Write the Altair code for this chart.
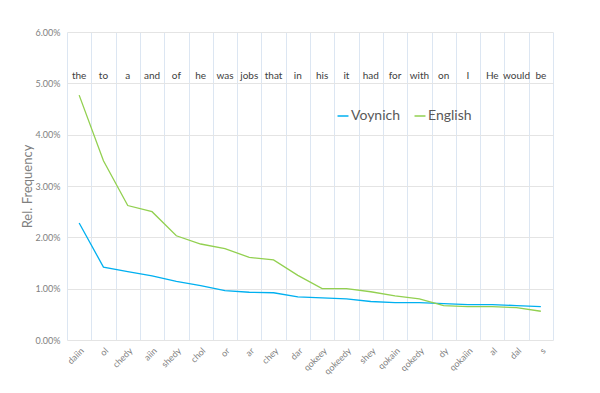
import altair as alt
import pandas as pd

voynich_words = ["daiin", "ol", "chedy", "aiin", "shedy", "chol", "or", "ar", "chey", "dar",
                 "qokeey", "qokeedy", "shey", "qokain", "qokedy", "dy", "qokaiin", "al", "dal", "s"]
english_words = ["the", "to", "a", "and", "of", "he", "was", "jobs", "that", "in",
                 "his", "it", "had", "for", "with", "on", "I", "He", "would", "be"]
voynich_freq = [2.28, 1.42, 1.33, 1.25, 1.14, 1.06, 0.96, 0.93, 0.92, 0.84,
                0.82, 0.80, 0.75, 0.73, 0.73, 0.71, 0.69, 0.69, 0.67, 0.65]
english_freq = [4.77, 3.49, 2.62, 2.50, 2.03, 1.87, 1.78, 1.61, 1.56, 1.26,
                1.00, 1.00, 0.94, 0.86, 0.80, 0.67, 0.65, 0.65, 0.63, 0.56]

rows = []
for w, e, v, f in zip(voynich_words, english_words, voynich_freq, english_freq):
    rows.append({"word": w, "series": "Voynich", "value": v / 100})
    rows.append({"word": w, "series": "English", "value": f / 100})
df = pd.DataFrame(rows)
top = pd.DataFrame({"word": voynich_words, "eng": english_words})

FONT = "Lato"
xenc = alt.X("word:N", sort=voynich_words, title=None,
             scale=alt.Scale(paddingInner=0, paddingOuter=0),
             axis=alt.Axis(labelAngle=-45, labelFontSize=9, labelColor="#7f7f7f",
                           labelFont=FONT, grid=True, tickBand="extent",
                           gridColor="#dce6f2", gridWidth=1, domain=False,
                           ticks=False, labelPadding=6))

lines = alt.Chart(df).mark_line(strokeWidth=1.3).encode(
    x=xenc,
    y=alt.Y("value:Q", title="Rel. Frequency",
            scale=alt.Scale(domain=[0, 0.06]),
            axis=alt.Axis(format=".2%", values=[0, 0.01, 0.02, 0.03, 0.04, 0.05, 0.06],
                          labelFontSize=9, labelColor="#7f7f7f", labelFont=FONT,
                          titleFont=FONT, titleFontSize=13, titleColor="#7f7f7f",
                          titleFontWeight="normal", titlePadding=1,
                          gridColor="#e4e4e4", domain=False, ticks=False,
                          labelPadding=7)),
    color=alt.Color("series:N",
                    scale=alt.Scale(domain=["Voynich", "English"], range=["#00b0f0", "#92d050"]),
                    legend=alt.Legend(title=None, orient="none", direction="horizontal",
                                      legendX=269, legendY=77, symbolType="stroke",
                                      symbolSize=120, symbolStrokeWidth=1.5,
                                      labelFontSize=14, labelFont=FONT, labelColor="#595959",
                                      labelOffset=1, columnPadding=10)),
)

texts = alt.Chart(top).mark_text(fontSize=10, font=FONT, color="#404040").encode(
    x=alt.X("word:N", sort=voynich_words),
    y=alt.datum(0.0514),
    text="eng:N",
)

chart = alt.layer(lines, texts).properties(
    width=486, height=308,
    autosize=alt.AutoSizeParams(type="none"),
    padding={"left": 59, "top": 24, "right": 39, "bottom": 45},
    background="white",
).configure_view(stroke=None)

chart.save("out.html", embed_options={"renderer": "svg", "actions": False})
